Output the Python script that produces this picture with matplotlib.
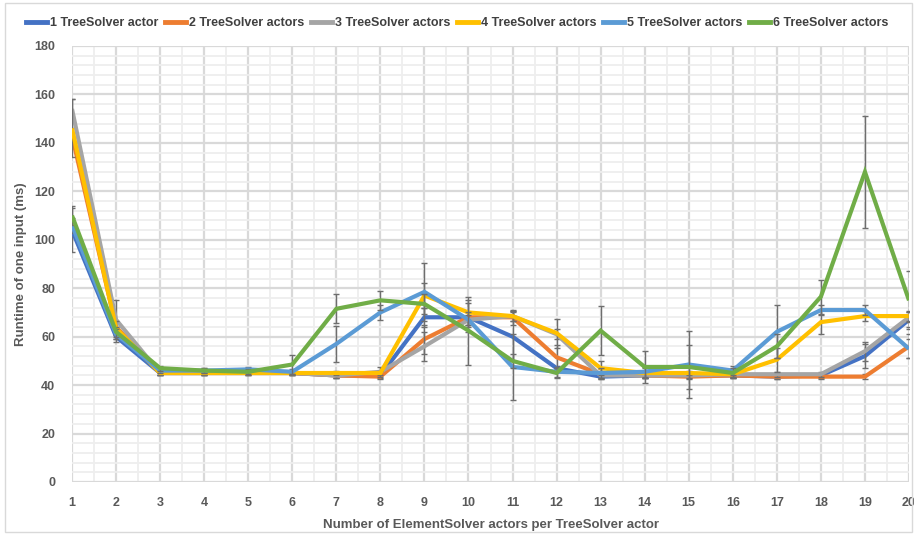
import matplotlib
matplotlib.use("Agg")
import matplotlib.pyplot as plt
from matplotlib.patches import Rectangle
from matplotlib.lines import Line2D
from matplotlib.ticker import MultipleLocator

plt.rcParams['font.family'] = ['Liberation Sans', 'DejaVu Sans']

x_vals = list(range(1, 21))
series_names = ["1 TreeSolver actor", "2 TreeSolver actors", "3 TreeSolver actors",
                "4 TreeSolver actors", "5 TreeSolver actors", "6 TreeSolver actors"]
colors = ["#4472C4", "#ED7D31", "#A5A5A5", "#FFC000", "#5B9BD5", "#70AD47"]

s1 = [104, 60, 45, 45, 46, 45, 44, 44, 68, 68, 60, 47, 43.5, 44, 44, 44, 43.5, 44, 52, 67]
s2 = [143, 64, 45, 45, 45, 45, 44, 43.5, 59, 68, 68, 51.5, 44.5, 44, 43.5, 44, 43.5, 43.5, 43.5, 56]
s3 = [154, 67, 45, 45, 45, 45, 44, 45.5, 56, 67, 68.5, 61, 44, 44, 44, 44.5, 44.5, 44.5, 54, 68]
s4 = [146, 63.5, 45, 45, 45, 45, 45, 45, 77, 70, 68.5, 61.5, 47, 45, 45, 44.5, 50.5, 66, 68.5, 68.5]
s5 = [106, 61, 46, 46, 46.5, 45.5, 57, 70, 78.5, 67, 47.5, 45.5, 45, 45.5, 48.5, 46, 62, 71, 71, 55]
s6 = [110, 62, 47, 46, 45.5, 48.5, 71.5, 75, 73.5, 62.5, 50, 45, 62.5, 47.5, 47.5, 45, 56, 76.5, 128, 75]

e1 = [9, 2, 1, 1, 1, 1, 1, 1, 4, 6, 10, 1, 1, 1, 1, 1, 1, 1, 5, 3]
e2 = [3, 2, 1, 1, 1, 1, 1, 1, 6, 2, 3, 5, 2, 1, 1, 1, 1, 1, 1, 5]
e3 = [4, 8, 1, 1, 1, 1, 1, 2, 6, 2, 2, 2, 1, 1, 1, 1, 1, 1, 4, 2]
e4 = [12, 3, 1, 1, 1, 1, 1, 1, 5, 5, 2, 6, 3, 2, 1, 1, 5, 5, 2, 2]
e5 = [3, 2, 1, 1, 1, 1, 7.5, 3, 12, 3, 13.5, 2, 2, 2, 14, 2, 11, 2, 2, 4]
e6 = [4, 2, 1, 1, 1, 4, 6, 4, 4, 14, 3, 2, 10, 6.5, 9, 2, 5, 7, 23, 12]

values = [s1, s2, s3, s4, s5, s6]
errors = [e1, e2, e3, e4, e5, e6]

x_label = "Number of ElementSolver actors per TreeSolver actor"
y_label = "Runtime of one input (ms)"

fig = plt.figure(figsize=(9.14, 5.35), dpi=100)
ax = fig.add_axes([72/914, 1-482/535, (909-72)/914, (482-46)/535])

fig.patches.append(Rectangle((5/914, 3/535), 907/914, 529/535, transform=fig.transFigure,
                             fill=False, edgecolor="#D9D9D9", linewidth=1))

for i, (vals, errs) in enumerate(zip(values, errors)):
    ax.errorbar(x_vals, vals, yerr=errs, color=colors[i], linewidth=3,
                ecolor="#6E6E6E", elinewidth=1, capsize=2.5, capthick=1,
                label=series_names[i], zorder=3 + i, solid_capstyle='butt',
                solid_joinstyle='miter')

ax.set_xlim(1, 20)
ax.set_ylim(0, 180)
ax.xaxis.set_major_locator(MultipleLocator(1))
ax.xaxis.set_minor_locator(MultipleLocator(0.5))
ax.yaxis.set_major_locator(MultipleLocator(20))
ax.yaxis.set_minor_locator(MultipleLocator(4))
ax.grid(which='major', color="#D9D9D9", linewidth=1.6, zorder=0)
ax.grid(which='minor', color="#EEEEEE", linewidth=1.3, zorder=0)
ax.set_axisbelow(True)
for sp in ax.spines.values():
    sp.set_visible(False)
ax.tick_params(which='both', length=0)
ax.tick_params(axis='x', pad=11, labelsize=9, labelcolor="#595959")
ax.tick_params(axis='y', pad=12, labelsize=9, labelcolor="#595959")
for lab in ax.get_xticklabels() + ax.get_yticklabels():
    lab.set_fontweight('bold')

ax.set_xlabel(x_label, fontsize=9.5, fontweight='bold', color="#595959", labelpad=7)
ax.set_ylabel(y_label, fontsize=9.5, fontweight='bold', color="#595959", labelpad=5)

h2 = [Line2D([0], [0], color=c, linewidth=3.5) for c in colors]
fig.legend(h2, series_names, loc='center', bbox_to_anchor=(0.5, 1-23/535), ncol=6,
           frameon=False, handlelength=1.7, handletextpad=0.25,
           columnspacing=0.5, labelcolor="#404040", prop={'weight': 'bold', 'size': 9})

fig.savefig("out.png", dpi=100)
